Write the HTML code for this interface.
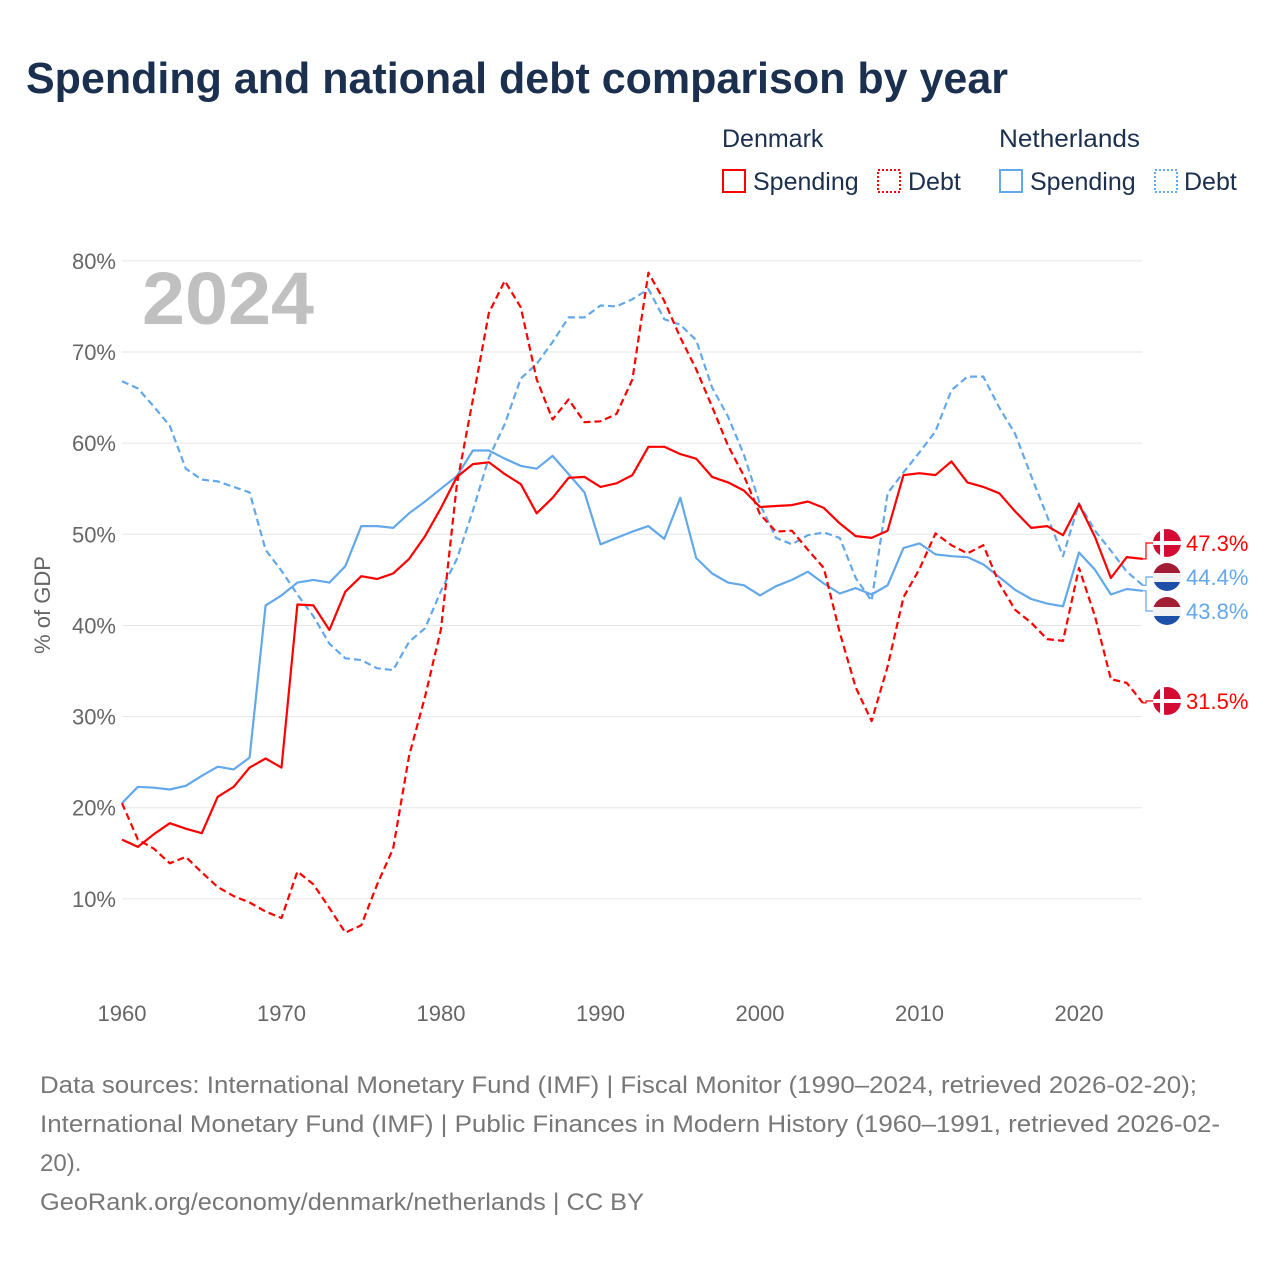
<!DOCTYPE html>
<html><head><meta charset="utf-8">
<style>
body{margin:0;width:1280px;height:1280px;background:#fff;font-family:"Liberation Sans",sans-serif;overflow:hidden}
svg text{font-family:"Liberation Sans",sans-serif}
</style></head>
<body>
<svg id="chart" width="1280" height="1280" viewBox="0 0 1280 1280" xmlns="http://www.w3.org/2000/svg">
<text x="26" y="93" font-size="44" font-weight="bold" fill="#1b2f4e" textLength="982" lengthAdjust="spacingAndGlyphs">Spending and national debt comparison by year</text>
<g font-size="25" fill="#1b2f4e">
<text x="722" y="147">Denmark</text>
<text x="999" y="147" textLength="141" lengthAdjust="spacingAndGlyphs">Netherlands</text>
<g><rect x="723" y="170" width="22" height="22" fill="none" stroke="#ff0000" stroke-width="2"/><text x="753" y="190">Spending</text></g>
<g><rect x="878" y="170" width="22" height="22" fill="none" stroke="#ff0000" stroke-width="2" stroke-dasharray="2,2"/><text x="908" y="190">Debt</text></g>
<g><rect x="1000" y="170" width="22" height="22" fill="none" stroke="#62a8ea" stroke-width="2"/><text x="1030" y="190">Spending</text></g>
<g><rect x="1155" y="170" width="22" height="22" fill="none" stroke="#62a8ea" stroke-width="2" stroke-dasharray="2,2"/><text x="1184" y="190">Debt</text></g>
</g>
<text x="142" y="324" font-size="74" font-weight="bold" fill="#c0c0c0" textLength="172" lengthAdjust="spacingAndGlyphs">2024</text>
<text transform="translate(50,605) rotate(-90)" text-anchor="middle" font-size="22" fill="#666">% of GDP</text>
<g id="grid"></g><g id="series"></g><g id="ends"></g>
<g font-size="24" fill="#777">
<text x="40" y="1093" textLength="1157" lengthAdjust="spacingAndGlyphs">Data sources: International Monetary Fund (IMF) | Fiscal Monitor (1990–2024, retrieved 2026-02-20);</text>
<text x="40" y="1132" textLength="1180" lengthAdjust="spacingAndGlyphs">International Monetary Fund (IMF) | Public Finances in Modern History (1960–1991, retrieved 2026-02-</text>
<text x="40" y="1171">20).</text>
<text x="40" y="1210" textLength="604" lengthAdjust="spacingAndGlyphs">GeoRank.org/economy/denmark/netherlands | CC BY</text>
</g>
</svg>
<script>
const years=[];for(let y=1960;y<=2024;y++)years.push(y);
const yTicks=[10,20,30,40,50,60,70,80];
const xTicks=[1960,1970,1980,1990,2000,2010,2020];
const dkSpending=[16.5,15.7,17.1,18.3,17.7,17.2,21.2,22.3,24.4,25.4,24.4,42.3,42.2,39.5,43.7,45.4,45.1,45.7,47.3,49.8,52.9,56.3,57.7,57.9,56.6,55.5,52.3,54.0,56.2,56.3,55.2,55.6,56.5,59.6,59.6,58.8,58.3,56.3,55.7,54.8,53.0,53.1,53.2,53.6,52.9,51.2,49.8,49.6,50.4,56.5,56.7,56.5,58.0,55.7,55.2,54.5,52.5,50.7,50.9,49.9,53.3,49.7,45.2,47.5,47.3];
const dkDebt=[20.5,16.5,15.5,13.9,14.6,12.9,11.3,10.3,9.6,8.6,7.9,13.0,11.6,9.0,6.3,7.1,11.6,15.5,25.7,32.2,39.6,55.5,64.8,74.3,77.8,74.9,67.0,62.6,64.8,62.3,62.4,63.2,67.0,78.7,75.6,71.6,68.1,64.0,59.7,56.4,52.2,50.3,50.4,48.3,46.3,39.2,33.2,29.5,35.5,43.1,46.2,50.1,48.8,47.9,48.8,44.6,41.7,40.3,38.5,38.3,46.3,41.0,34.1,33.7,31.5];
const nlSpending=[20.5,22.3,22.2,22.0,22.4,23.5,24.5,24.2,25.5,42.2,43.3,44.7,45.0,44.7,46.5,50.9,50.9,50.7,52.3,53.6,55.0,56.4,59.2,59.2,58.3,57.5,57.2,58.6,56.6,54.6,48.9,49.6,50.3,50.9,49.5,54.0,47.4,45.7,44.7,44.4,43.3,44.3,45.0,45.9,44.6,43.5,44.1,43.4,44.4,48.5,49.0,47.8,47.6,47.5,46.7,45.3,43.9,42.9,42.4,42.1,48.0,46.1,43.4,44.0,43.8];
const nlDebt=[66.8,66.0,64.0,61.9,57.2,56.0,55.8,55.2,54.6,48.3,46.0,43.4,41.0,38.0,36.4,36.2,35.3,35.1,38.2,39.7,43.8,47.3,52.6,58.4,62.1,67.1,68.7,71.1,73.8,73.8,75.1,75.0,75.8,76.9,73.6,73.0,71.3,66.1,62.9,58.7,53.3,49.6,48.9,49.9,50.2,49.6,45.2,42.7,54.5,56.8,59.0,61.3,65.8,67.3,67.3,63.9,61.0,56.4,52.0,47.6,53.4,50.4,48.2,45.9,44.4];
const NS="http://www.w3.org/2000/svg";
const X=yr=>122+(yr-1960)*957/60;
const Y=v=>990-v*9.114;
function mk(tag,attrs,parent){const e=document.createElementNS(NS,tag);for(const k in attrs)e.setAttribute(k,attrs[k]);parent.appendChild(e);return e;}
const grid=document.getElementById('grid');
yTicks.forEach(t=>{
 const l=mk('line',{x1:122,x2:1142,y1:Y(t),y2:Y(t),stroke:'#e6e6e6','stroke-width':1},grid);
 
 
 const tx=mk('text',{x:116,y:Y(t)+8,'text-anchor':'end','font-size':22,fill:'#666'},grid);
 tx.textContent=t+'%';
 
 
});
xTicks.forEach(t=>{
 const tx=mk('text',{x:X(t),y:1021,'text-anchor':'middle','font-size':22,fill:'#666'},grid);
 tx.textContent=t;
 
 
});
const ser=document.getElementById('series');
function line(vals,color,dash,name){
 const d=vals.map((v,i)=>(i?'L':'M')+X(years[i]).toFixed(1)+','+Y(v).toFixed(1)).join('');
 const p=mk('path',{d:d,fill:'none',stroke:color,'stroke-width':2.2,'stroke-dasharray':dash,'stroke-linejoin':'round'},ser);
 
 
}
line(nlDebt,'#62a8ea','7,4','line-nl-debt');
line(nlSpending,'#62a8ea','none','line-nl-spending');
line(dkDebt,'#ff0000','7,4','line-dk-debt');
line(dkSpending,'#ff0000','none','line-dk-spending');
const ends=document.getElementById('ends');
function flag(cy,country){
 const g=mk('g',{},ends);
 const cp='cp'+cy;
 const c=mk('clipPath',{id:cp},g);mk('circle',{cx:1167,cy:cy,r:14},c);
 const f=mk('g',{'clip-path':'url(#'+cp+')'},g);
 if(country==='dk'){
  mk('rect',{x:1153,y:cy-14,width:28,height:28,fill:'#d40c33'},f);
  mk('rect',{x:1160,y:cy-14,width:4,height:28,fill:'#fff'},f);
  mk('rect',{x:1153,y:cy-2,width:28,height:4,fill:'#fff'},f);
 }else{
  mk('rect',{x:1153,y:cy-14,width:28,height:10,fill:'#a31e34'},f);
  mk('rect',{x:1153,y:cy-4,width:28,height:9,fill:'#f2f2f2'},f);
  mk('rect',{x:1153,y:cy+5,width:28,height:10,fill:'#1e4fa8'},f);
 }
 return g;
}
function endLabel(val,ly,color,country,name){
 const ex=X(2024),ey=Y(val);
 const g=flag(ly,country);
 
 
 mk('path',{d:`M${ex},${ey}H1146V${ly}H1153`,fill:'none',stroke:color,'stroke-width':1.2},g);
 const t=mk('text',{x:1186,y:ly+8,'font-size':22,fill:color},g);
 t.textContent=val.toFixed(1)+'%';
}
endLabel(dkSpending[64],543,'#ff0000','dk','end-label-dk-spending');
endLabel(nlDebt[64],577,'#62a8ea','nl','end-label-nl-debt');
endLabel(nlSpending[64],611,'#62a8ea','nl','end-label-nl-spending');
endLabel(dkDebt[64],701,'#ff0000','dk','end-label-dk-debt');
</script>
</body></html>
